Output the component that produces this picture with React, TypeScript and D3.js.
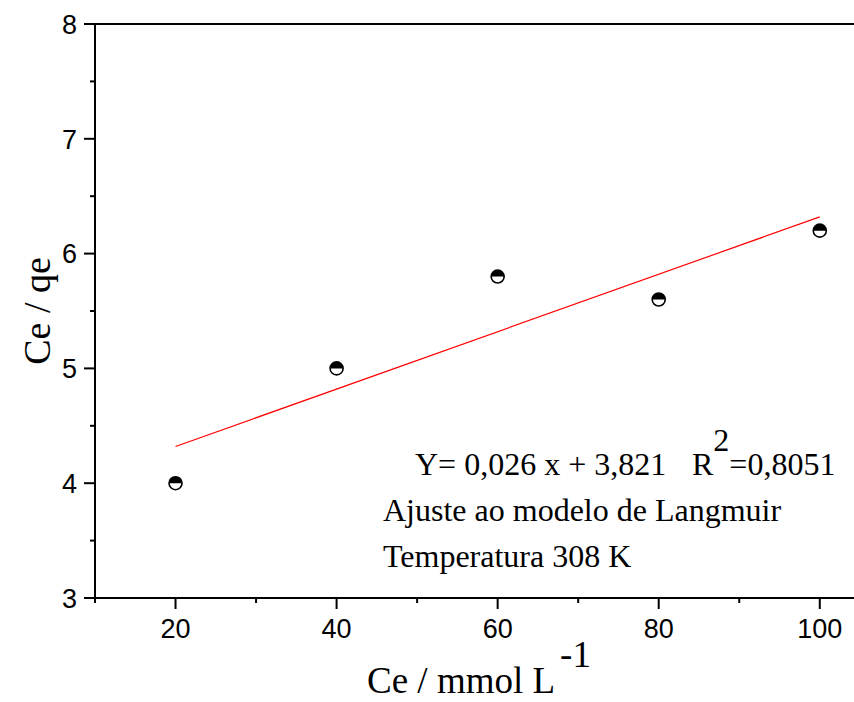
import React from "react";
import * as d3 from "d3";

const xValues = [20, 40, 60, 80, 100];
const yValues = [4.0, 5.0, 5.8, 5.6, 6.2];
const xTickLabels = [20, 40, 60, 80, 100];
const yTickLabels = [3, 4, 5, 6, 7, 8];
const equationText = "Y= 0,026 x + 3,821";
const r2Text = "=0,8051";
const noteLines = ["Ajuste ao modelo de Langmuir", "Temperatura 308 K"];

const W = 854;
const H = 702;
const left = 95, right = 854, top = 24, bottom = 598;

export default function App() {
  const x = d3.scaleLinear().domain([10, 104.25]).range([left, right]);
  const y = d3.scaleLinear().domain([3, 8]).range([bottom, top]);

  const mx = d3.mean(xValues)!;
  const my = d3.mean(yValues)!;
  let sxy = 0, sxx = 0;
  xValues.forEach((v, i) => { sxy += (v - mx) * (yValues[i] - my); sxx += (v - mx) ** 2; });
  const slope = sxy / sxx;
  const intercept = my - slope * mx;
  const fitX = d3.extent(xValues) as [number, number];
  const line = d3.line<number>().x(d => x(d)).y(d => y(slope * d + intercept));

  const xMinor = d3.range(10, 105, 10).filter(v => !xTickLabels.includes(v));
  const yMinor = d3.range(3.5, 8, 1);
  const r = 6.5;
  const sans = "'Liberation Sans', Arial, sans-serif";
  const serif = "'Liberation Serif', 'Times New Roman', serif";

  return (
    <svg width={W} height={H} style={{ position: "absolute", left: 0, top: 0, background: "#fff" }}>
      <rect width={W} height={H} fill="#fff" />
      <line x1={left} x2={right} y1={top} y2={top} stroke="#000" strokeWidth={2} />
      <line x1={left} x2={right} y1={bottom} y2={bottom} stroke="#000" strokeWidth={2} />
      <line x1={left} x2={left} y1={top} y2={bottom} stroke="#000" strokeWidth={2} />
      {yTickLabels.map(t => (
        <g key={"y" + t}>
          <line x1={left - 11} x2={left} y1={y(t)} y2={y(t)} stroke="#000" strokeWidth={2} />
          <text x={left - 18} y={y(t)} dy="0.36em" textAnchor="end" fontFamily={sans} fontSize={27}>{t}</text>
        </g>
      ))}
      {yMinor.map(t => (
        <line key={"ym" + t} x1={left - 5} x2={left} y1={y(t)} y2={y(t)} stroke="#000" strokeWidth={2} />
      ))}
      {xTickLabels.map(t => (
        <g key={"x" + t}>
          <line x1={x(t)} x2={x(t)} y1={bottom} y2={bottom + 11} stroke="#000" strokeWidth={2} />
          <text x={x(t)} y={bottom + 40} textAnchor="middle" fontFamily={sans} fontSize={27}>{t}</text>
        </g>
      ))}
      {xMinor.map(t => (
        <line key={"xm" + t} x1={x(t)} x2={x(t)} y1={bottom} y2={bottom + 5} stroke="#000" strokeWidth={2} />
      ))}
      <path d={line(fitX) || ""} fill="none" stroke="#ff0000" strokeWidth={1.2} />
      {xValues.map((v, i) => {
        const cx = x(v), cy = y(yValues[i]);
        return (
          <g key={"p" + i}>
            <circle cx={cx} cy={cy} r={r} fill="#fff" />
            <path d={`M${cx - r},${cy} A${r},${r} 0 0 1 ${cx + r},${cy} Z`} fill="#000" />
            <circle cx={cx} cy={cy} r={r} fill="none" stroke="#000" strokeWidth={1.6} />
          </g>
        );
      })}
      <text x={415} y={475} fontFamily={serif} fontSize={32}>
        <tspan>{equationText}</tspan>
        <tspan x={692}>R</tspan>
        <tspan dy={-24}>2</tspan>
        <tspan dy={24}>{r2Text}</tspan>
      </text>
      <text x={383} y={521} fontFamily={serif} fontSize={32}>{noteLines[0]}</text>
      <text x={383} y={567} fontFamily={serif} fontSize={32}>{noteLines[1]}</text>
      <text transform={`translate(50, ${(top + bottom) / 2}) rotate(-90)`} textAnchor="middle" fontFamily={serif} fontSize={38}>Ce / qe</text>
      <text x={367} y={693} fontFamily={serif} fontSize={37}>
        <tspan>{"Ce / mmol L"}</tspan>
        <tspan dx={5} dy={-26}>{"-1"}</tspan>
      </text>
    </svg>
  );
}
